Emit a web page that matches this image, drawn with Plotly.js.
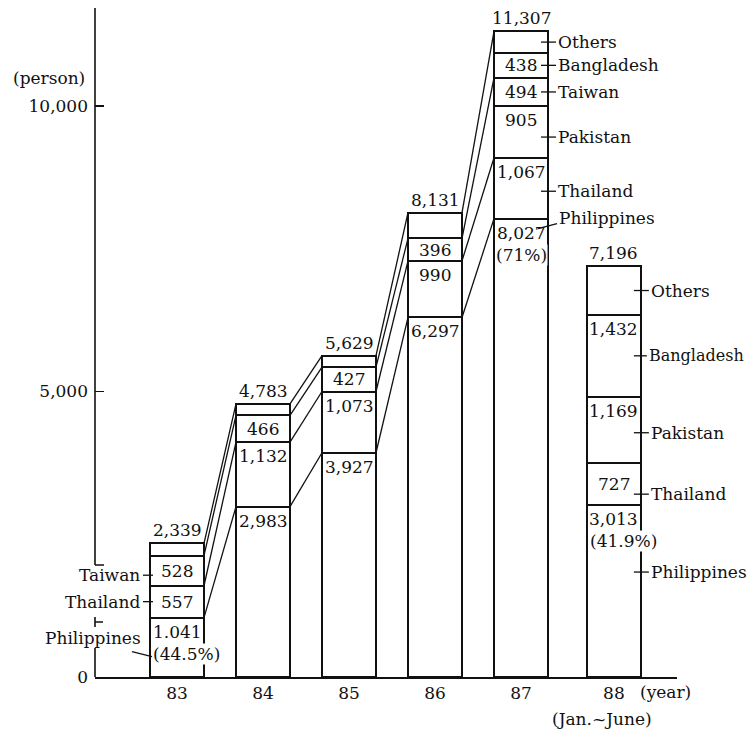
<!DOCTYPE html>
<html><head><meta charset="utf-8">
<script src="https://cdn.plot.ly/plotly-3.0.1.min.js"></script>
<style>html,body{margin:0;padding:0;background:#fff}</style>
</head><body><div id="chart" style="width:749px;height:733px"></div>
<script>
// ---- data ----
const years = ["83", "84", "85", "86", "87", "88"];
const philippines = [1041, 2983, 3927, 6297, 8027, 3013];
const thailand = [557, 1132, 1073, 990, 1067, 727];
const pakistan = [null, null, null, null, 905, 1169];
const taiwan = [528, 466, 427, 396, 494, null];
const bangladesh = [null, null, null, null, 438, 1432];
const others = [213, 202, 202, 448, 376, 855];
const totals = [2339, 4783, 5629, 8131, 11307, 7196];
const philippinesText = ["1.041", "2,983", "3,927", "6,297", "8,027", "3,013"];
const philippinesShare = ["(44.5%)", null, null, null, "(71%)", "(41.9%)"];
const yTickVals = [0, 5000, 10000];
const yTickText = ["0", "5,000", "10,000"];

// ---- drawing ----
const FONT = "DejaVu Serif";
const FS = 17;
const INK = "#111";
const L = 95, R = 677, T = 8, B = 677;
const X0 = 177, DX = 86, PXU = 0.0571;
const xRange = [(L - X0) / DX, (R - X0) / DX];
const yRange = [0, (B - T) / PXU];
const HW = 0.314;
const PARTIAL_GAP = 0.08; // extra spacing before the half-year bar
const xs = years.map((_, i) => i + (i === years.length - 1 ? PARTIAL_GAP : 0));
const px = X => (X - L) / (R - L);
const py = Y => (B - Y) / (B - T);

const series = [
  {name: "Philippines", v: philippines},
  {name: "Thailand", v: thailand},
  {name: "Pakistan", v: pakistan},
  {name: "Taiwan", v: taiwan},
  {name: "Bangladesh", v: bangladesh},
  {name: "Others", v: others}
];
const bottoms = {}, tops = {};
const run = xs.map(() => 0);
series.forEach(s => {
  bottoms[s.name] = []; tops[s.name] = [];
  s.v.forEach((v, i) => {
    bottoms[s.name][i] = run[i];
    if (v != null) run[i] += v;
    tops[s.name][i] = run[i];
  });
});

const traces = series.map(s => ({
  type: "bar", x: xs, y: s.v, width: 2 * HW, name: s.name,
  marker: {color: "#fff", line: {color: INK, width: 2}},
  hoverinfo: "skip", showlegend: false
}));

// connecting lines between consecutive annual bars (83..87)
const linkSeries = ["Philippines", "Thailand", "Taiwan", "Others"];
for (let i = 0; i < 4; i++) {
  linkSeries.forEach(n => {
    traces.push({
      type: "scatter", mode: "lines", x: [xs[i] + HW, xs[i + 1] - HW],
      y: [tops[n][i], tops[n][i + 1]],
      line: {color: INK, width: 1.3}, hoverinfo: "skip", showlegend: false,
      cliponaxis: false
    });
  });
}

const tf = (size) => ({family: FONT, size: size || FS, color: INK});
const annotations = [];
const shapes = [];

// totals above bars
totals.forEach((t, i) => annotations.push({
  x: xs[i], y: t, xref: "x", yref: "y", text: t.toLocaleString("en-US"),
  showarrow: false, yanchor: "bottom", yshift: 1, font: tf()
}));

// segment values
series.forEach(s => {
  if (s.name === "Others") return;
  s.v.forEach((v, i) => {
    if (v == null) return;
    const txt = s.name === "Philippines" ? philippinesText[i] : v.toLocaleString("en-US");
    const small = v < 800;
    annotations.push({
      x: xs[i], y: small ? bottoms[s.name][i] + v / 2 : tops[s.name][i],
      xref: "x", yref: "y", text: txt, showarrow: false,
      yanchor: small ? "middle" : "top", yshift: small ? 0 : -2, font: tf()
    });
  });
});
// Philippines share
philippinesShare.forEach((t, i) => {
  if (!t) return;
  const wide = t.length > 5;
  annotations.push({
    x: wide ? xs[i] - HW : xs[i], y: tops.Philippines[i], xref: "x", yref: "y",
    text: t, showarrow: false, xanchor: wide ? "left" : "center", xshift: wide ? 2 : 0,
    yanchor: "top", yshift: -25, font: tf(), bgcolor: "#fff", borderpad: 0
  });
});

// side labels with small tick marks
const sideLabels = [
  {bar: 0, s: "Taiwan", side: "left", frac: 0.35},
  {bar: 0, s: "Thailand", side: "left", frac: 0.5},
  {bar: 4, s: "Others", side: "right", frac: 0.5},
  {bar: 4, s: "Bangladesh", side: "right", frac: 0.5},
  {bar: 4, s: "Taiwan", side: "right", frac: 0.5},
  {bar: 4, s: "Pakistan", side: "right", frac: 0.4},
  {bar: 4, s: "Thailand", side: "right", frac: 0.45},
  {bar: 5, s: "Others", side: "right", frac: 0.5},
  {bar: 5, s: "Bangladesh", side: "right", frac: 0.5, size: 16, gap: 6},
  {bar: 5, s: "Pakistan", side: "right", frac: 0.46},
  {bar: 5, s: "Thailand", side: "right", frac: 0.26},
  {bar: 5, s: "Philippines", side: "right", frac: 0.61}
];
sideLabels.forEach(o => {
  const b = bottoms[o.s][o.bar], t = tops[o.s][o.bar];
  const yv = b + (t - b) * o.frac;
  const right = o.side === "right";
  const edge = right ? xs[o.bar] + HW : xs[o.bar] - HW;
  const gap = o.gap || 8;
  shapes.push({type: "line", xref: "x", yref: "y", xsizemode: "pixel", xanchor: edge,
    x0: -7, x1: right ? gap : 3, y0: yv, y1: yv, line: {color: INK, width: 1.3}});
  annotations.push({x: edge, y: yv, xref: "x", yref: "y", text: o.s, showarrow: false,
    xanchor: right ? "left" : "right", xshift: right ? gap : -8, yanchor: "middle", font: tf(o.size)});
});
// Philippines labels with leader lines (83 left, 87 right)
{
  const e = xs[0] - HW, yv = tops.Philippines[0];
  shapes.push({type: "line", xref: "x", yref: "y", xsizemode: "pixel", ysizemode: "pixel",
    xanchor: e, yanchor: yv, x0: -18, x1: 2, y0: -34, y1: -39, line: {color: INK, width: 1.3}});
  annotations.push({x: e, y: yv, xref: "x", yref: "y", text: "Philippines", showarrow: false,
    xanchor: "right", xshift: -7, yanchor: "middle", yshift: -20, font: tf()});
}
{
  const e = xs[4] + HW, yv = tops.Philippines[4];
  shapes.push({type: "line", xref: "x", yref: "y", xsizemode: "pixel", ysizemode: "pixel",
    xanchor: e, yanchor: yv, x0: -10, x1: 9, y0: -10, y1: -5, line: {color: INK, width: 1.3}});
  annotations.push({x: e, y: yv, xref: "x", yref: "y", text: "Philippines", showarrow: false,
    xanchor: "left", xshift: 9, yanchor: "middle", yshift: 1, font: tf()});
}

// broken vertical axis line
const axisGapLow = (B - 648) / PXU, axisGapHigh = (B - 565) / PXU;
const lineTo = (y0, y1) => ({type: "line", xref: "paper", yref: "y", x0: 0, x1: 0, y0: y0, y1: y1, line: {color: INK, width: 1.6}});
const capAt = (y, len) => ({type: "line", xref: "paper", yref: "y", xsizemode: "pixel", xanchor: 0, x0: 0, x1: len, y0: y, y1: y, line: {color: INK, width: 1.5}});
shapes.push(lineTo(0, axisGapLow));
shapes.push(lineTo(axisGapHigh, yRange[1]));
shapes.push(capAt(axisGapHigh, 9));
shapes.push(lineTo((B - 627) / PXU, (B - 617) / PXU));
shapes.push(capAt((B - 622) / PXU, 8));

// axis captions
annotations.push({xref: "paper", yref: "paper", x: px(87), y: py(78), text: "(person)", showarrow: false, xanchor: "right", yanchor: "middle", font: tf()});
annotations.push({xref: "paper", yref: "paper", x: px(638), y: py(692), text: "(year)", showarrow: false, xanchor: "left", yanchor: "middle", font: tf()});
annotations.push({xref: "paper", yref: "paper", x: px(654), y: py(719), text: "(Jan.~June)", showarrow: false, xanchor: "right", yanchor: "middle", font: tf()});

const layout = {
  width: 749, height: 733, autosize: false,
  margin: {l: L, r: 749 - R, t: T, b: 733 - B, pad: 0},
  paper_bgcolor: "#fff", plot_bgcolor: "#fff",
  barmode: "stack", showlegend: false,
  xaxis: {type: "linear", range: xRange, tickvals: xs, ticktext: years, ticks: "",
    showline: true, linecolor: INK, linewidth: 1.6, showgrid: false, zeroline: false,
    tickfont: tf(), fixedrange: true},
  yaxis: {range: yRange, tickvals: yTickVals, ticktext: yTickText, ticks: "inside",
    ticklen: 9, tickwidth: 1.5, tickcolor: INK, showline: false, showgrid: false,
    zeroline: false, tickfont: tf(), ticklabelstandoff: 6, fixedrange: true},
  annotations: annotations, shapes: shapes
};
Plotly.newPlot("chart", traces, layout, {staticPlot: true, displayModeBar: false});
</script></body></html>
